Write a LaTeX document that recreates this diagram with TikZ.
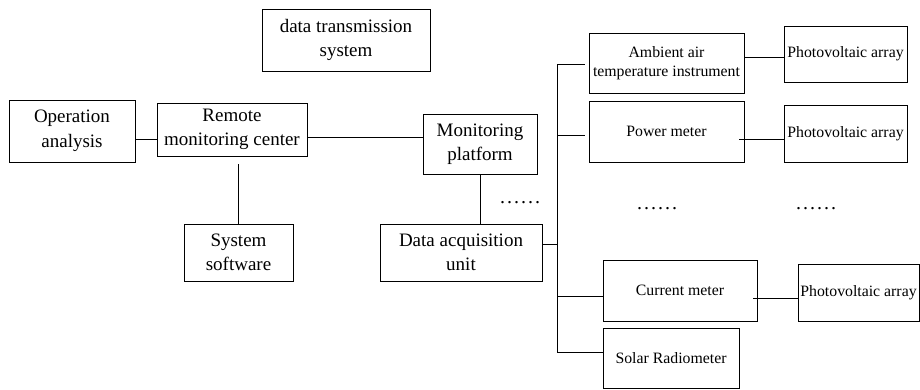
\documentclass[tikz,border=0pt]{standalone}
\usepackage{fontspec}
\setmainfont{Liberation Serif}
\newcommand{\mydots}{.\kern2pt.\kern2pt.\kern2pt.\kern2pt.\kern2pt.}
\begin{document}
\begin{tikzpicture}[x=1pt,y=-1pt,
  box/.style={draw=black,line width=1pt,inner sep=0pt,align=center,
    font=\fontsize{19}{24.5}\selectfont},
  sbox/.style={draw=black,line width=1pt,inner sep=0pt,align=center,
    font=\fontsize{15.8}{19}\selectfont},
  link/.style={line width=1pt,draw=black},
  dotsnode/.style={inner sep=0pt,font=\fontsize{20}{20}\selectfont}]
\useasboundingbox (0,0) rectangle (920,389);
% left part
\node[box,minimum width=168pt,minimum height=62pt] (dts) at (346,40) {data transmission\\system};
\node[box,minimum width=126pt,minimum height=62pt] (oa) at (72,131) {Operation\\analysis};
\node[box,minimum width=150pt,minimum height=53pt] (rmc) at (232,129.5) {Remote\\monitoring center};
\node[box,minimum width=114pt,minimum height=60pt] (mp) at (480,144) {Monitoring\\platform};
\node[box,minimum width=109pt,minimum height=57pt] (ss) at (238.5,252.5) {System\\software};
\node[box,minimum width=162pt,minimum height=57pt] (dau) at (461,252.5) {Data acquisition\\unit};
% right part
\node[sbox,minimum width=155pt,minimum height=60pt] (aat) at (666.5,63) {Ambient air\\temperature instrument};
\node[sbox,minimum width=155pt,minimum height=61pt] (pm) at (666.5,131.5) {Power meter};
\node[sbox,minimum width=154pt,minimum height=61pt] (cm) at (680,290.5) {Current meter};
\node[sbox,minimum width=136pt,minimum height=60pt] (sr) at (671,358) {Solar Radiometer};
\node[sbox,minimum width=123pt,minimum height=56pt] (pv1) at (845.5,54) {Photovoltaic array};
\node[sbox,minimum width=123pt,minimum height=57pt] (pv2) at (845.5,133.5) {Photovoltaic array};
\node[sbox,minimum width=121pt,minimum height=57pt] (pv3) at (858.5,292.5) {Photovoltaic array};
% dots
\node[dotsnode] (d1) at (520,203) {\mydots};
\node[dotsnode] (d2) at (657,209) {\mydots};
\node[dotsnode] (d3) at (816,209) {\mydots};
% bus
\coordinate (bt) at (557,64);
\coordinate (bb) at (557,352);
\draw[link] (bt) -- (bb);
% connectors
\draw[link] ([yshift=-8pt]oa.east) -- ([yshift=-9.5pt]rmc.west);
\draw[link] ([yshift=-7.5pt]rmc.east) -- ([yshift=7pt]mp.west);
\draw[link] (ss.north) -- ++(0,-60);
\draw[link] (mp.south) -- (mp.south |- dau.north);
\draw[link] ([yshift=8.5pt]dau.east) -- ++(15,0);
\draw[link] (bt) -- ([xshift=-4pt,yshift=-1pt]aat.west);
\draw[link] ([xshift=-4pt,yshift=-3.5pt]pm.west) -- ++(-28,0);
\draw[link] ([yshift=-5.5pt]cm.west) -- ++(-46,0);
\draw[link] ([yshift=6pt]sr.west) -- (bb);
\draw[link] ([yshift=6pt]aat.east) -- ([yshift=-3pt]pv1.west);
\draw[link] ([yshift=-5.5pt]pv2.west) -- ++(-45,0);
\draw[link] ([yshift=-5.5pt]pv3.west) -- ++(-45,0);
\end{tikzpicture}
\end{document}
